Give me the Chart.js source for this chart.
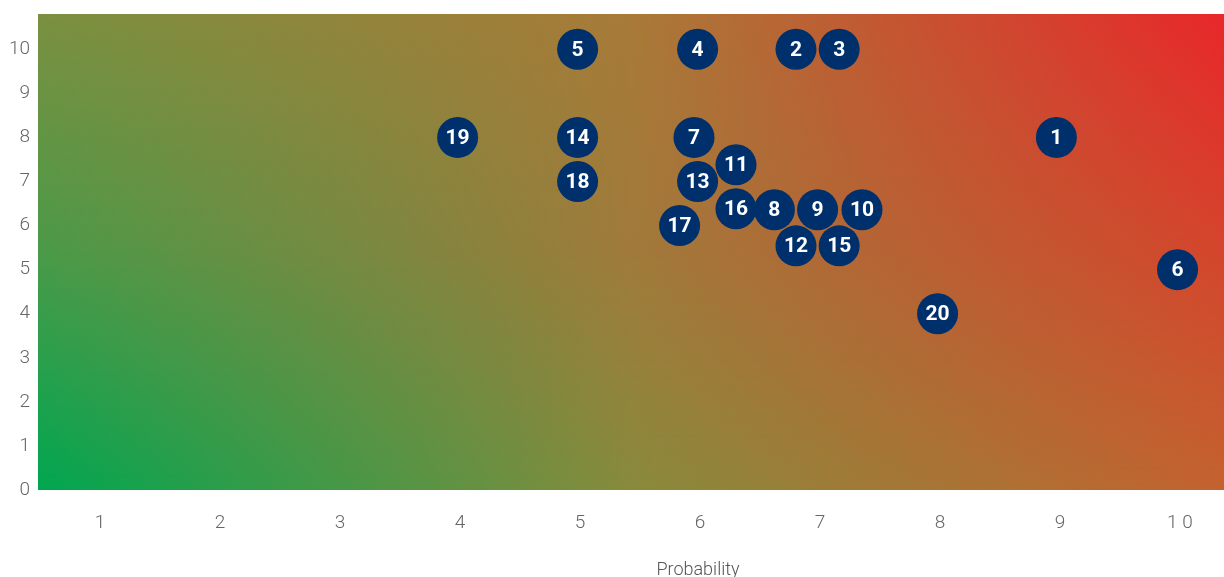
<!DOCTYPE html>
<html>
<head>
<meta charset="utf-8">
<script src="https://cdn.jsdelivr.net/npm/chart.js@4"></script>
<style>
    html, body { margin: 0; padding: 0; background: #fff; overflow: hidden; }
    #wrap { width: 1224px; height: 577px; }
</style>
</head>
<body>
<div id="wrap"><canvas id="riskChart"></canvas></div>
<script>
// risk ids and their positions (probability, impact)
const riskIds = [1, 2, 3, 4, 5, 6, 7, 8, 9, 10, 11, 12, 13, 14, 15, 16, 17, 18, 19, 20];
const probability = [8.97, 6.8, 7.16, 5.98, 4.98, 9.98, 5.95, 6.62, 6.98, 7.35, 6.3, 6.8, 5.98, 4.98, 7.16, 6.3, 5.83, 4.98, 3.98, 7.98];
const impact = [8, 10, 10, 10, 10, 5, 8, 6.36, 6.36, 6.36, 7.38, 5.54, 7, 8, 5.54, 6.38, 6, 7, 8, 4];
const xTicks = [1, 2, 3, 4, 5, 6, 7, 8, 9, 10];
const xTickLabels = ['1', '2', '3', '4', '5', '6', '7', '8', '9', '1 0'];
const yTicks = [0, 1, 2, 3, 4, 5, 6, 7, 8, 9, 10];
const xTitle = 'Probability';

const tickFont = "'Roboto', sans-serif";

// background: green (bottom-left) -> brown -> red (top-right)
const gradientGrid = [
    ['#7a9040', '#a87a38', '#e8272a'],
    ['#4a9a48', '#a07a3a', '#d4452c'],
    ['#00a651', '#888a3c', '#c4622f']
];

function hexToRgb(h) {
    return [parseInt(h.substr(1, 2), 16), parseInt(h.substr(3, 2), 16), parseInt(h.substr(5, 2), 16)];
}
function mix(a, b, t) {
    const ca = hexToRgb(a), cb = hexToRgb(b);
    return 'rgb(' + ca.map((v, i) => Math.round(v + (cb[i] - v) * t)).join(',') + ')';
}
function colAt(col, t) {
    // t: 0 top, 1 bottom
    if (t < 0.5) return mix(gradientGrid[0][col], gradientGrid[1][col], t * 2);
    return mix(gradientGrid[1][col], gradientGrid[2][col], (t - 0.5) * 2);
}

const bgPlugin = {
    id: 'bgGradient',
    beforeDatasetsDraw(chart) {
        const {ctx, chartArea: a} = chart;
        const h = a.bottom - a.top;
        const steps = 120;
        ctx.save();
        for (let i = 0; i < steps; i++) {
            const y0 = a.top + h * i / steps;
            const y1 = a.top + h * (i + 1) / steps;
            const t = (i + 0.5) / steps;
            const g = ctx.createLinearGradient(a.left, 0, a.right, 0);
            g.addColorStop(0, colAt(0, t));
            g.addColorStop(0.5, colAt(1, t));
            g.addColorStop(1, colAt(2, t));
            ctx.fillStyle = g;
            ctx.fillRect(a.left, Math.floor(y0), a.right - a.left, Math.ceil(y1) - Math.floor(y0));
        }
        ctx.restore();
    }
};

const labelPlugin = {
    id: 'pointLabels',
    afterDatasetsDraw(chart) {
        const ctx = chart.ctx;
        const meta = chart.getDatasetMeta(0);
        ctx.save();
        ctx.fillStyle = '#ffffff';
        ctx.font = "bold 21px 'Roboto', sans-serif";
        ctx.textAlign = 'center';
        ctx.textBaseline = 'middle';
        meta.data.forEach((pt, i) => {
            ctx.fillText(String(riskIds[i]), pt.x, pt.y + 1);
        });
        // x axis title, sits right of centre as in the original
        ctx.fillStyle = '#555';
        ctx.font = "300 18px 'Roboto', sans-serif";
        ctx.fillText(xTitle, 698, 570);
        ctx.restore();
    }
};

const ctx = document.getElementById('riskChart').getContext('2d');
new Chart(ctx, {
    type: 'scatter',
    data: {
        datasets: [{
            data: riskIds.map((id, i) => ({x: probability[i], y: impact[i]})),
            backgroundColor: '#00306b',
            borderWidth: 0,
            pointRadius: 20.5,
            pointHoverRadius: 20.5
        }]
    },
    options: {
        responsive: true,
        maintainAspectRatio: false,
        animation: false,
        layout: { autoPadding: false, padding: { top: 14, right: 0, left: 0, bottom: 0 } },
        plugins: {
            legend: { display: false },
            tooltip: { enabled: false }
        },
        scales: {
            x: {
                type: 'linear',
                min: 0.483,
                max: 10.367,
                grid: { display: false, drawTicks: false },
                border: { display: false },
                afterBuildTicks: (scale) => { scale.ticks = xTicks.map(v => ({value: v})); },
                afterFit: (scale) => {
                    scale.height = 87;
                    scale.paddingLeft = 0;
                    scale.paddingRight = 0;
                },
                ticks: {
                    padding: 22,
                    color: '#666',
                    font: { family: tickFont, size: 19, weight: '300' },
                    callback: (v) => xTickLabels[xTicks.indexOf(v)]
                }
            },
            y: {
                type: 'linear',
                min: 0,
                max: 10.8,
                grid: { display: false, drawTicks: false },
                border: { display: false },
                afterBuildTicks: (scale) => { scale.ticks = yTicks.map(v => ({value: v})); },
                afterFit: (scale) => {
                    scale.width = 38;
                    scale.paddingTop = 0;
                    scale.paddingBottom = 0;
                },
                ticks: {
                    padding: 8,
                    color: '#666',
                    font: { family: tickFont, size: 19, weight: '300' }
                }
            }
        }
    },
    plugins: [bgPlugin, labelPlugin]
});
</script>
</body>
</html>
